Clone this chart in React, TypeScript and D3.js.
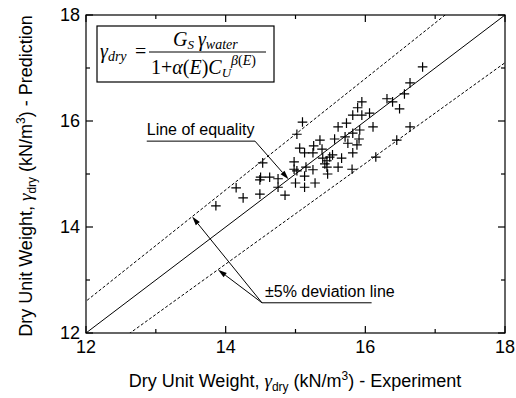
import React from 'react';
import * as d3 from 'd3';

// Experimental (x) and predicted (y) dry unit weights, kN/m3
const expX = [
  16.82, 16.64, 16.56, 16.31, 16.39, 16.49, 16.64, 16.45, 16.15, 15.95,
  15.89, 15.82, 15.95, 16.06, 15.61, 15.73, 15.92, 16.11, 15.82, 15.56,
  15.71, 15.75, 15.88, 15.91, 15.82, 15.35, 15.26, 15.38, 15.06, 15.13,
  15.25, 15.53, 15.49, 15.45, 15.39, 15.66, 15.42, 15.45, 15.61, 15.81,
  14.98, 14.98, 15.02, 15.15, 15.25, 15.13, 15.46, 15.0, 15.13, 15.28,
  15.1, 15.02, 14.53, 14.49, 14.5, 14.63, 14.75, 14.75, 14.85, 14.15,
  14.25, 14.49, 13.86,
];
const predY = [
  17.02, 16.72, 16.51, 16.42, 16.36, 16.23, 15.89, 15.64, 15.32, 16.36,
  16.25, 16.11, 16.11, 16.15, 15.89, 15.96, 15.83, 15.89, 15.77, 15.66,
  15.7, 15.58, 15.55, 15.66, 15.4, 15.64, 15.53, 15.47, 15.49, 15.4,
  15.4, 15.36, 15.32, 15.25, 15.3, 15.3, 15.19, 15.13, 15.13, 15.09,
  15.23, 15.09, 15.06, 15.13, 15.08, 14.96, 15.0, 14.83, 14.75, 14.83,
  15.98, 15.75, 15.21, 14.89, 14.94, 14.94, 14.91, 14.75, 14.6, 14.74,
  14.55, 14.62, 14.4,
];
const majorTicks = [12, 14, 16, 18];
const minorTicks = [13, 15, 17];
const deviation = 0.05;
const eqLabel = 'Line of equality';
const devLabel = '\u00B15% deviation line';
const xTitle = ['Dry Unit Weight, ', 'γ', 'dry', ' (kN/m', '3', ') - Experiment'];
const yTitle = ['Dry Unit Weight, ', 'γ', 'dry', ' (kN/m', '3', ') - Prediction'];

// annotation anchors in data units
const eqAnno = { x0: 12.87, x1: 14.42, y: 15.62, target: 14.9 };
const devAnno = { x0: 14.52, x1: 16.09, y: 12.57, upperTarget: 13.52, lowerTarget: 13.89 };

const SANS = 'Liberation Sans, Arial, sans-serif';
const SERIF = 'Liberation Serif, Times New Roman, serif';

function Arrow({ x1, y1, x2, y2 }: { x1: number; y1: number; x2: number; y2: number }) {
  const a = Math.atan2(y2 - y1, x2 - x1);
  const L = 9, Wd = 2.6;
  const bx = x2 - L * Math.cos(a), by = y2 - L * Math.sin(a);
  const px = -Math.sin(a) * Wd, py = Math.cos(a) * Wd;
  return (
    <g>
      <line x1={x1} y1={y1} x2={bx} y2={by} stroke="#000" strokeWidth={1} />
      <polygon points={`${x2},${y2} ${bx + px},${by + py} ${bx - px},${by - py}`} fill="#000" />
    </g>
  );
}

export default function App() {
  const W = 516, H = 398;
  const x = d3.scaleLinear().domain([12, 18]).range([86, 505]);
  const y = d3.scaleLinear().domain([12, 18]).range([333, 15]);
  const [x0, x1] = x.range();
  const [y0, y1] = y.range();
  const line = d3.line<number>().x((d) => x(d)).y((d) => y(d));
  const lineK = (k: number) => d3.line<number>().x((d) => x(d)).y((d) => y(d * k))([10, 20]) as string;
  const pts = expX.map((v, i) => [v, predY[i]]);
  const ps = 4.8;

  return (
    <svg width={W} height={H} style={{ position: 'absolute', left: 0, top: 0, background: '#fff' }} fontFamily={SANS}>
      <defs>
        <clipPath id="plot">
          <rect x={x0} y={y1} width={x1 - x0} height={y0 - y1} />
        </clipPath>
      </defs>
      <rect width={W} height={H} fill="#fff" />
      {/* reference lines */}
      <g clipPath="url(#plot)">
        <path d={line([10, 20]) as string} stroke="#000" strokeWidth={1} fill="none" />
        <path d={lineK(1 + deviation)} stroke="#000" strokeWidth={1} strokeDasharray="3,2" fill="none" />
        <path d={lineK(1 - deviation)} stroke="#000" strokeWidth={1} strokeDasharray="3,2" fill="none" />
      </g>
      {/* points */}
      <g stroke="#000" strokeWidth={1.2}>
        {pts.map(([a, b], i) => (
          <path key={i} d={`M${x(a) - ps},${y(b)}H${x(a) + ps}M${x(a)},${y(b) - ps}V${y(b) + ps}`} />
        ))}
      </g>
      {/* frame */}
      <rect x={x0} y={y1} width={x1 - x0} height={y0 - y1} fill="none" stroke="#000" strokeWidth={1.2} />
      {/* ticks */}
      <g stroke="#000" strokeWidth={1.2}>
        {majorTicks.map((t) => (
          <g key={'M' + t}>
            <line x1={x(t)} x2={x(t)} y1={y0} y2={y0 - 7} />
            <line x1={x(t)} x2={x(t)} y1={y1} y2={y1 + 7} />
            <line y1={y(t)} y2={y(t)} x1={x0} x2={x0 + 7} />
            <line y1={y(t)} y2={y(t)} x1={x1} x2={x1 - 7} />
          </g>
        ))}
        {minorTicks.map((t) => (
          <g key={'m' + t}>
            <line x1={x(t)} x2={x(t)} y1={y0} y2={y0 - 4} />
            <line x1={x(t)} x2={x(t)} y1={y1} y2={y1 + 4} />
            <line y1={y(t)} y2={y(t)} x1={x0} x2={x0 + 4} />
            <line y1={y(t)} y2={y(t)} x1={x1} x2={x1 - 4} />
          </g>
        ))}
      </g>
      {/* tick labels */}
      <g fontSize={18} fill="#000">
        {majorTicks.map((t) => (
          <text key={'xl' + t} x={x(t)} y={y0 + 20} textAnchor="middle">{t}</text>
        ))}
        {majorTicks.map((t) => (
          <text key={'yl' + t} x={x0 - 6} y={y(t) + 6} textAnchor="end">{t}</text>
        ))}
      </g>
      {/* axis titles */}
      <text x={295} y={387} textAnchor="middle" fontSize={18}>
        {xTitle[0]}
        <tspan fontFamily={SERIF} fontStyle="italic" fontSize={19}>{xTitle[1]}</tspan>
        <tspan fontSize={12} dy={4}>{xTitle[2]}</tspan>
        <tspan dy={-4}>{xTitle[3]}</tspan>
        <tspan fontSize={12} dy={-7}>{xTitle[4]}</tspan>
        <tspan dy={7}>{xTitle[5]}</tspan>
      </text>
      <text transform="translate(32,176) rotate(-90)" textAnchor="middle" fontSize={18}>
        {yTitle[0]}
        <tspan fontFamily={SERIF} fontStyle="italic" fontSize={19}>{yTitle[1]}</tspan>
        <tspan fontSize={12} dy={4}>{yTitle[2]}</tspan>
        <tspan dy={-4}>{yTitle[3]}</tspan>
        <tspan fontSize={12} dy={-7}>{yTitle[4]}</tspan>
        <tspan dy={7}>{yTitle[5]}</tspan>
      </text>
      {/* formula box */}
      <rect x={97} y={26} width={177} height={56} fill="#fff" stroke="#000" strokeWidth={1.2} />
      <g fontFamily={SERIF} fontSize={20} fill="#000">
        <text x={100} y={58} fontStyle="italic">γ<tspan fontSize={14} dy={3}>dry</tspan></text>
        <text x={135} y={58}>=</text>
        <line x1={149} x2={266} y1={52} y2={52} stroke="#000" strokeWidth={1} />
        <text x={173} y={46} fontStyle="italic">
          G<tspan fontSize={13} dy={3}>S</tspan>
          <tspan dy={-3} dx={4}>γ</tspan>
          <tspan fontSize={14} dy={3}>water</tspan>
        </text>
        <text x={151} y={74}>
          1+<tspan fontStyle="italic">α</tspan>(<tspan fontStyle="italic">E</tspan>)<tspan fontStyle="italic">C</tspan>
          <tspan fontSize={13} dy={3} fontStyle="italic">U</tspan>
          <tspan fontSize={14} dy={-12} fontStyle="italic">β</tspan>
          <tspan fontSize={14}>(</tspan>
          <tspan fontSize={14} fontStyle="italic">E</tspan>
          <tspan fontSize={14}>)</tspan>
        </text>
      </g>
      {/* annotations */}
      <text x={x(eqAnno.x0)} y={y(eqAnno.y) - 6} fontSize={16}>{eqLabel}</text>
      <line x1={x(eqAnno.x0)} x2={x(eqAnno.x1)} y1={y(eqAnno.y)} y2={y(eqAnno.y)} stroke="#000" strokeWidth={1} />
      <Arrow x1={x(eqAnno.x1)} y1={y(eqAnno.y)} x2={x(eqAnno.target)} y2={y(eqAnno.target)} />

      <text x={x(devAnno.x0) + 3} y={y(devAnno.y) - 6} fontSize={16}>{devLabel}</text>
      <line x1={x(devAnno.x0)} x2={x(devAnno.x1)} y1={y(devAnno.y)} y2={y(devAnno.y)} stroke="#000" strokeWidth={1} />
      <Arrow x1={x(devAnno.x0)} y1={y(devAnno.y)} x2={x(devAnno.upperTarget)} y2={y(devAnno.upperTarget * (1 + deviation))} />
      <Arrow x1={x(devAnno.x0)} y1={y(devAnno.y)} x2={x(devAnno.lowerTarget)} y2={y(devAnno.lowerTarget * (1 - deviation))} />
    </svg>
  );
}
